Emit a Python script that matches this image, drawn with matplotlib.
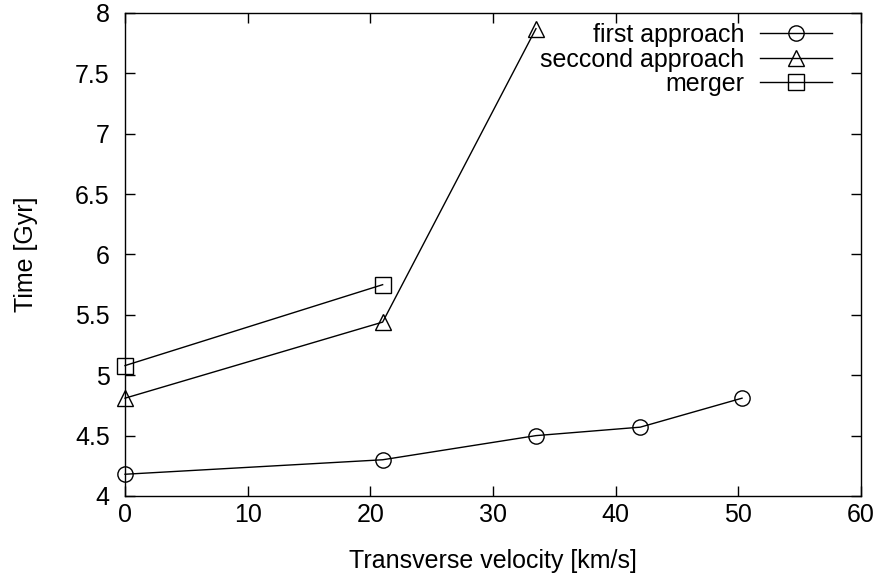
import matplotlib.pyplot as plt

# data
first_x = [0, 21, 33.5, 42, 50.3]
first_y = [4.18, 4.30, 4.50, 4.57, 4.81]
second_x = [0, 21, 33.5]
second_y = [4.81, 5.44, 7.87]
merger_x = [0, 21]
merger_y = [5.08, 5.75]

plt.rcParams['font.family'] = ['Liberation Sans', 'DejaVu Sans']
plt.rcParams['font.size'] = 18

fig = plt.figure(figsize=(8.83, 5.75), dpi=100)
ax = fig.add_axes([0.1416, 0.1374, 0.9751 - 0.1416, 0.9774 - 0.1374])

style = dict(color='black', linewidth=1, markersize=11, markerfacecolor='none',
             markeredgewidth=1, clip_on=False)
ax.plot(first_x, first_y, marker='o', label='first approach', **style)
ax.plot(second_x, second_y, marker='^', label='seccond approach', **style)
ax.plot(merger_x, merger_y, marker='s', label='merger', **style)

ax.set_xlim(0, 60)
ax.set_ylim(4, 8)
ax.set_xticks(range(0, 61, 10))
ax.set_yticks([4, 4.5, 5, 5.5, 6, 6.5, 7, 7.5, 8])
ax.set_yticklabels(['4', '4.5', '5', '5.5', '6', '6.5', '7', '7.5', '8'])
ax.tick_params(direction='in', top=True, right=True, length=7, width=1)
ax.tick_params(axis='x', pad=5)
ax.tick_params(axis='y', pad=11)
for s in ax.spines.values():
    s.set_linewidth(1)

ax.set_xlabel('Transverse velocity [km/s]', labelpad=16)
ax.set_ylabel('Time [Gyr]', labelpad=27)

ax.legend(loc='upper right', bbox_to_anchor=(0.9606, 0.979), frameon=False,
          markerfirst=False, handlelength=2.9, handletextpad=0.6,
          labelspacing=0.02, borderpad=0, borderaxespad=0, fontsize=18)

fig.savefig('out.png', dpi=100)
